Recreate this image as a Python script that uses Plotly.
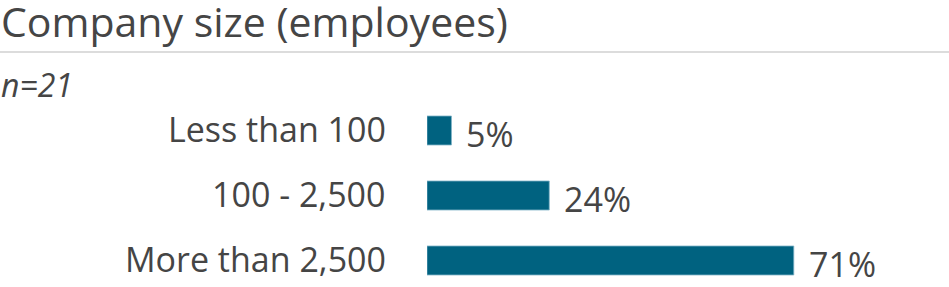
import plotly.graph_objects as go

# Data
categories = ["Less than 100", "100 - 2,500", "More than 2,500"]
values = [4.76, 23.81, 71.43]          # percent of respondents (n=21)
value_labels = ["5%", "24%", "71%"]
title_text = "Company size (employees)"
subtitle_text = "n=21"

W, H = 949, 287
BAR_COLOR = "#006280"
TEXT_COLOR = "#454545"
FONT = "Open Sans"

fig = go.Figure()
fig.add_trace(go.Bar(
    x=values,
    y=categories,
    orientation="h",
    marker=dict(color=BAR_COLOR, line=dict(color="#7fb3c6", width=0.8)),
    hoverinfo="skip",
    showlegend=False,
))

annotations = []
# value labels
for c, v, lab in zip(categories, values, value_labels):
    annotations.append(dict(
        x=v, y=c, xref="x", yref="y", text=lab, showarrow=False,
        xanchor="left", yanchor="middle", xshift=13, yshift=-3,
        font=dict(family=FONT, size=34, color=TEXT_COLOR),
    ))
# category labels
for c in categories:
    annotations.append(dict(
        x=0, y=c, xref="x", yref="y", text=c, showarrow=False,
        xanchor="right", yanchor="middle", xshift=-39, yshift=2,
        font=dict(family=FONT, size=34, color=TEXT_COLOR),
    ))
# title and subtitle
annotations.append(dict(
    x=0, y=1 - 21 / H, xref="paper", yref="paper", text=title_text, showarrow=False,
    xanchor="left", yanchor="middle", xshift=-1,
    font=dict(family=FONT, size=41, color=TEXT_COLOR),
))
annotations.append(dict(
    x=0, y=1 - 84 / H, xref="paper", yref="paper", text="<i>" + subtitle_text + "</i>",
    showarrow=False, xanchor="left", yanchor="middle", xshift=-1,
    font=dict(family=FONT, size=32, color=TEXT_COLOR),
))

fig.update_layout(
    width=W, height=H,
    margin=dict(l=0, r=0, t=0, b=0),
    paper_bgcolor="white", plot_bgcolor="white",
    bargap=0.554,
    xaxis=dict(domain=[427 / W, 1], range=[0, 522 / 5.135], visible=False, fixedrange=True),
    yaxis=dict(domain=[0, 189 / H], range=[2.4077, -0.5], type="category",
               categoryorder="array", categoryarray=categories, visible=False, fixedrange=True),
    annotations=annotations,
    shapes=[dict(type="line", xref="paper", yref="paper", x0=0, x1=1,
                 y0=1 - 52 / H, y1=1 - 52 / H, line=dict(color="#dcdcdc", width=2))],
    font=dict(family=FONT),
)

fig.write_html("out.html", config={"displayModeBar": False})
